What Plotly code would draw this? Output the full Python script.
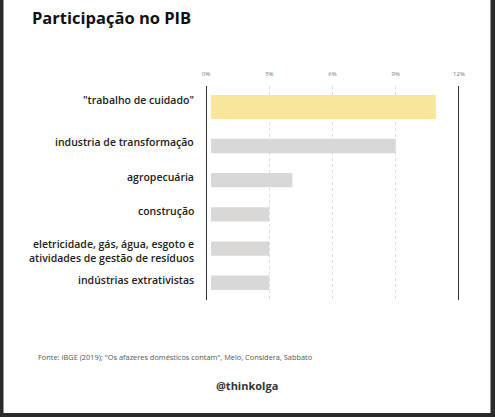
import plotly.graph_objects as go

categories = [
    '"trabalho de cuidado"',
    "industria de transformação",
    "agropecuária",
    "construção",
    "eletricidade, gás, água, esgoto e<br>atividades de gestão de resíduos",
    "indústrias extrativistas",
]
values = [10.9, 9.0, 4.1, 3.0, 3.0, 3.0]
bar_colors = ["#f8e79b", "#d9d8d6", "#d9d8d6", "#d9d8d6", "#d9d8d6", "#d9d8d6"]
tick_vals = [0, 3, 6, 9, 12]
tick_text = ["0%", "3%", "6%", "9%", "12%"]

W, H = 495, 417
L, R, T, B = 206, 36, 86, 117
pw, ph = W - L - R, H - T - B


def px(x):
    return (x - L) / pw


def py(y):
    return (H - B - y) / ph


FONT = "Open Sans"

fig = go.Figure(
    go.Bar(
        y=categories,
        x=values,
        orientation="h",
        marker=dict(color=bar_colors, line=dict(width=0)),
        width=[0.70, 0.42, 0.42, 0.42, 0.42, 0.42],
        offset=[-0.49, -0.21, -0.21, -0.21, -0.21, -0.21],
        hoverinfo="x+y",
    )
)

shapes = [
    # dark frame around the white card
    dict(type="rect", xref="paper", yref="paper", x0=px(3.5), x1=px(490.5),
         y0=py(413), y1=py(-2), fillcolor="white", line=dict(width=0), layer="below"),
    # small gap between the axis and the bars
    dict(type="rect", xref="x", yref="paper", x0=0, x1=0.24, y0=0, y1=1,
         fillcolor="white", line=dict(width=0), layer="above"),
]
for xv in (0, 12):
    shapes.append(dict(type="line", xref="x", yref="paper", x0=xv, x1=xv, y0=0, y1=1,
                       line=dict(color="#333333", width=2), layer="above"))

annotations = [
    dict(text="<b>Participação no PIB</b>", x=px(30), y=py(18), xref="paper", yref="paper",
         xanchor="left", yanchor="middle", showarrow=False,
         font=dict(family=FONT, size=16.5, color="#111111")),
    dict(text="Fonte: IBGE (2019); \"Os afazeres domésticos contam\", Melo, Considera, Sabbato",
         x=px(36), y=py(357), xref="paper", yref="paper", xanchor="left", yanchor="middle",
         showarrow=False, font=dict(family=FONT, size=7.4, color="#555555")),
    dict(text="<b>@thinkolga</b>", x=px(247), y=py(385), xref="paper", yref="paper",
         xanchor="center", yanchor="middle", showarrow=False,
         font=dict(family=FONT, size=11, color="#333333")),
]

# category labels, nudged a little like in the original layout
label_yshift = [12, 4, 3, 3, -2, 3]
for cat, dy in zip(categories, label_yshift):
    annotations.append(dict(
        text=cat, x=px(196), y=cat, xref="paper", yref="y",
        xanchor="right", yanchor="middle", yshift=dy, align="right",
        showarrow=False, font=dict(family=FONT, size=10.5, color="#222222", weight=600),
    ))

fig.update_layout(
    width=W,
    height=H,
    margin=dict(l=L, r=R, t=T, b=B, pad=0),
    paper_bgcolor="#2b2b2b",
    plot_bgcolor="white",
    showlegend=False,
    shapes=shapes,
    annotations=annotations,
    font=dict(family=FONT, color="#222222"),
)
fig.update_xaxes(
    range=[0, 12],
    side="top",
    tickvals=tick_vals,
    ticktext=tick_text,
    tickfont=dict(size=6, color="#777777"),
    ticklabelstandoff=8,
    showgrid=True,
    gridcolor="#dddddd",
    griddash="dot",
    gridwidth=1,
    zeroline=False,
    showline=False,
    fixedrange=True,
)
fig.update_yaxes(
    type="category",
    range=[5.503, -0.754],
    showticklabels=False,
    showgrid=False,
    zeroline=False,
    showline=False,
    fixedrange=True,
)

fig.write_html(
    "out.html",
    config={"displayModeBar": False},
    post_script="document.body.style.margin = '0';",
)
